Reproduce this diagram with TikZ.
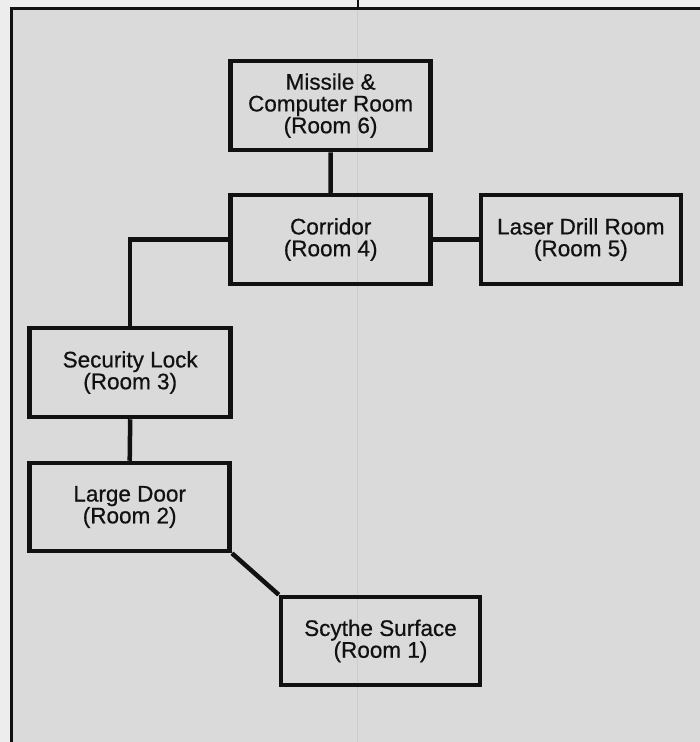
\documentclass[tikz,border=0pt]{standalone}
\usepackage{fontspec}
\setmainfont{Liberation Sans}
\newfontfamily\roomfont[FakeBold=0.6]{Liberation Sans}
\definecolor{paper}{HTML}{EDEDED}
\definecolor{panel}{HTML}{DADADA}
\definecolor{ink}{HTML}{111111}
\definecolor{gutter}{HTML}{CDCDCD}
\begin{document}
\begin{tikzpicture}[x=1pt,y=-1pt,
  room/.style={draw=ink, line width=4.5pt, inner sep=0pt, align=center,
    text=ink, minimum width=200pt, minimum height=89pt,
    font=\roomfont\fontsize{22.5}{21.8}\selectfont},
  link/.style={draw=ink, line width=4.5pt},
  frameline/.style={draw=ink, line width=3pt},
  thinline/.style={draw=ink, line width=1.2pt}]
\useasboundingbox (0,0) rectangle (700,742);
\fill[paper] (0,0) rectangle (700,742);
\fill[panel] (11.5,8.5) rectangle (700,742);
\coordinate (gtop) at (357,10);
\coordinate (gbot) at (357,742);
\draw[gutter, line width=0.8pt] (gtop) -- (gbot);
% frame
\coordinate (fbl) at (11.5,742);
\coordinate (ftl) at (11.5,8.5);
\coordinate (ftr) at (700,8.5);
\coordinate (vtop) at (358,0);
\coordinate (vbot) at (358,8.5);
\draw[frameline] (fbl) -- (ftl) -- (ftr);
\draw[thinline] (vtop) -- (vbot);
% rooms
\node[room] (r6) at (330.6,105.6) {Missile \&\\Computer Room\\(Room 6)};
\node[room] (r4) at (330.7,239.5) {Corridor\\(Room 4)};
\node[room] (r5) at (580.9,239.5) {Laser Drill Room\\(Room 5)};
\node[room, minimum width=201pt] (r3) at (130.2,372.5) {Security Lock\\(Room 3)};
\node[room, minimum height=88pt] (r2) at (129.7,507) {Large Door\\(Room 2)};
\node[room, minimum width=199pt, minimum height=88pt] (r1) at (380.5,641) {Scythe Surface\\(Room 1)};
% connectors
\draw[link] (r6.south) -- (r4.north);
\draw[link] (r4.east) -- (r5.west);
\draw[link] (r4.west) -| (r3.north);
\draw[link] (r3.south) -- (r2.north);
\draw[link] (r2.south east) -- (r1.north west);
\end{tikzpicture}
\end{document}
